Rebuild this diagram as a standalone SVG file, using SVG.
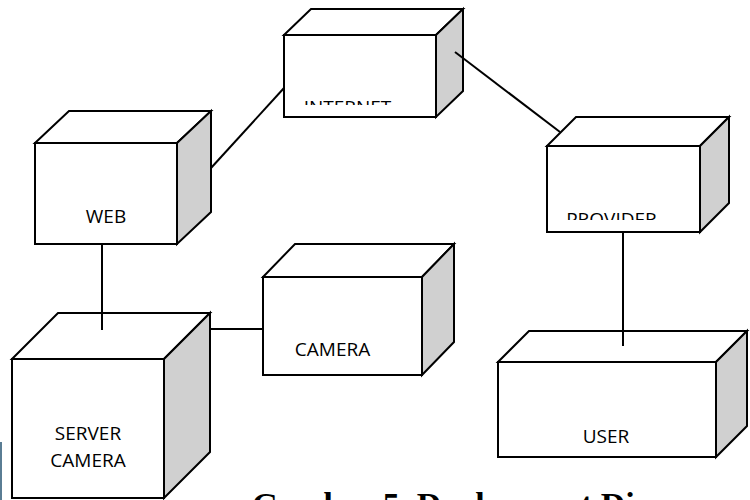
<svg xmlns="http://www.w3.org/2000/svg" width="750" height="500" viewBox="0 0 750 500">
<style>
.f{fill:#fff;stroke:#000;stroke-width:2;stroke-linejoin:miter}
.s{fill:#d0d0d0;stroke:#000;stroke-width:2}
.c{fill:none;stroke:#000;stroke-width:2}
.t{font-family:"Open Sans","Liberation Sans",sans-serif;font-size:19px;fill:#000;text-anchor:middle}
.cap{font-family:"Liberation Serif",serif;font-weight:bold;font-size:34px;fill:#000}
</style>
<defs>
<clipPath id="clipI"><rect x="284" y="95" width="152" height="10"/></clipPath>
<clipPath id="clipP"><rect x="547" y="205" width="153" height="15"/></clipPath>
</defs>
<rect width="750" height="500" fill="#fff"/>
<rect x="0" y="442" width="2" height="58" fill="#5a7d94"/>
<g id="internet">
<rect class="f" x="284" y="35" width="152" height="82"/>
<polygon class="f" points="284,35 311,9 463,9 436,35"/>
<polygon class="s" points="436,35 463,9 463,91 436,117"/>
<text class="t" x="347.5" y="114" font-size="18" clip-path="url(#clipI)">INTERNET</text>
</g>
<g id="web">
<rect class="f" x="35" y="143" width="142" height="101"/>
<polygon class="f" points="35,143 69,111 211,111 177,143"/>
<polygon class="s" points="177,143 211,111 211,212 177,244"/>
<text class="t" x="106" y="223">WEB</text>
</g>
<g id="provider">
<rect class="f" x="547" y="146" width="153" height="86"/>
<polygon class="f" points="547,146 576,117 729,117 700,146"/>
<polygon class="s" points="700,146 729,117 729,203 700,232"/>
<text class="t" x="611.5" y="226" font-size="18" clip-path="url(#clipP)">PROVIDER</text>
</g>
<g id="camera">
<rect class="f" x="263" y="277" width="159" height="98"/>
<polygon class="f" points="263,277 295,244 454,244 422,277"/>
<polygon class="s" points="422,277 454,244 454,342 422,375"/>
<text class="t" x="332.5" y="356" font-size="20">CAMERA</text>
</g>
<g id="server-camera">
<rect class="f" x="12" y="359" width="152" height="139"/>
<polygon class="f" points="12,359 58,313 210,313 164,359"/>
<polygon class="s" points="164,359 210,313 210,452 164,498"/>
<text class="t" x="88" y="440">SERVER</text>
<text class="t" x="88" y="467">CAMERA</text>
</g>
<g id="user">
<rect class="f" x="498" y="362" width="218" height="95"/>
<polygon class="f" points="498,362 529,331 747,331 716,362"/>
<polygon class="s" points="716,362 747,331 747,426 716,457"/>
<text class="t" x="606" y="443">USER</text>
</g>
<g id="connectors">
<line class="c" x1="211" y1="168" x2="284" y2="88"/>
<line class="c" x1="455" y1="52" x2="560" y2="132"/>
<line class="c" x1="102" y1="244" x2="102" y2="330"/>
<line class="c" x1="210" y1="329" x2="263" y2="329"/>
<line class="c" x1="623" y1="232" x2="623" y2="346"/>
</g>
<text class="cap" x="252" y="516">Gambar 5. Deployment Di</text>
</svg>
